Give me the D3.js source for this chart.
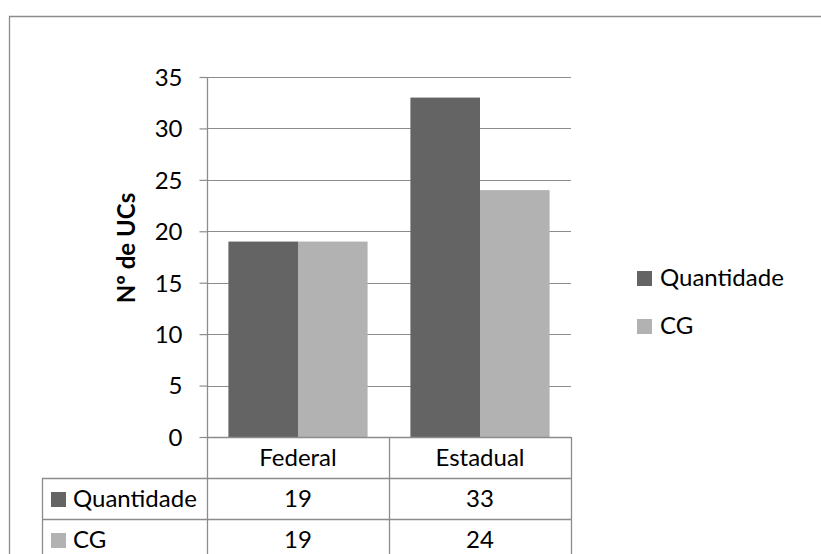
<!DOCTYPE html>
<html>
<head>
<meta charset="utf-8">
<script src="https://cdn.jsdelivr.net/npm/d3@7"></script>
<style>
  html, body { margin: 0; padding: 0; background: #fff; }
  svg { display: block; }
  text { font-family: Lato, "Open Sans", sans-serif; fill: #000; }
</style>
</head>
<body>
<script>
// Unidades de conservação por esfera administrativa
const categories = ["Federal", "Estadual"];
const seriesNames = ["Quantidade", "CG"];
const quantidade = [19, 33];
const cg = [19, 24];
const yTicks = [0, 5, 10, 15, 20, 25, 30, 35];
const yTitle = "Nº de UCs";
const seriesColors = ["#646464", "#b2b2b2"];

const W = 821, H = 554;
const FS = 24;
const lineColor = "#8c8c8c";

const svg = d3.select("body").append("svg")
  .attr("width", W).attr("height", H);

svg.append("rect").attr("width", W).attr("height", H).attr("fill", "#fff");

// chart frame
svg.append("path")
  .attr("d", `M9.5,${H} V16.5 H${W}`)
  .attr("fill", "none").attr("stroke", lineColor).attr("stroke-width", 1.3);

const plot = { left: 207, right: 571, top: 77, bottom: 437 };

const x = d3.scaleBand().domain(categories).range([plot.left, plot.right]).padding(0);
const xs = d3.scaleBand().domain(seriesNames).range([0, x.bandwidth()])
  .paddingInner(0).paddingOuter(0.3075);
const y = d3.scaleLinear().domain([0, 35]).range([plot.bottom, plot.top]);

const seriesData = [quantidade, cg];

// gridlines
svg.append("g").selectAll("line").data(yTicks.filter(d => d > 0)).join("line")
  .attr("x1", plot.left).attr("x2", plot.right)
  .attr("y1", d => Math.round(y(d)) + 0.5).attr("y2", d => Math.round(y(d)) + 0.5)
  .attr("stroke", lineColor).attr("stroke-width", 1.2);

// bars
seriesNames.forEach((s, si) => {
  svg.append("g").selectAll("rect").data(categories).join("rect")
    .attr("x", c => x(c) + xs(s))
    .attr("width", xs.bandwidth())
    .attr("y", (c, i) => y(seriesData[si][i]))
    .attr("height", (c, i) => y(0) - y(seriesData[si][i]))
    .attr("fill", seriesColors[si]);
});

// y axis
const yAxis = d3.axisLeft(y).tickValues(yTicks).tickSize(8).tickPadding(17)
  .tickFormat(d3.format("d"));
const ya = svg.append("g").attr("transform", `translate(${plot.left + 0.5},0)`).call(yAxis);
ya.select(".domain").remove();
ya.selectAll(".tick line").attr("stroke", lineColor).attr("stroke-width", 1.2);
ya.selectAll(".tick text").attr("font-size", FS).attr("font-family", "Lato, sans-serif")
  .attr("fill", "#000").attr("dy", "0.35em");

// axis line (continues through the data table)
svg.append("line")
  .attr("x1", plot.left + 0.5).attr("x2", plot.left + 0.5)
  .attr("y1", plot.top).attr("y2", H)
  .attr("stroke", lineColor).attr("stroke-width", 1.3);

// y axis title
svg.append("text")
  .attr("transform", `translate(127,${(plot.top + plot.bottom) / 2 - 9}) rotate(-90)`)
  .attr("text-anchor", "middle").attr("dy", "0.35em")
  .attr("font-size", FS).attr("font-weight", "bold")
  .text(yTitle);

// data table
const rowH = 41;
const tableLeft = 42;
const rows = [plot.bottom, plot.bottom + rowH, plot.bottom + 2 * rowH, plot.bottom + 3 * rowH];
const tg = svg.append("g");
tg.append("line").attr("x1", plot.left).attr("x2", plot.right)
  .attr("y1", rows[0] + 0.5).attr("y2", rows[0] + 0.5)
  .attr("stroke", lineColor).attr("stroke-width", 1.3);
rows.slice(1).forEach(r => {
  tg.append("line").attr("x1", tableLeft).attr("x2", plot.right)
    .attr("y1", r + 0.5).attr("y2", r + 0.5)
    .attr("stroke", lineColor).attr("stroke-width", 1.3);
});
tg.append("line").attr("x1", tableLeft + 0.5).attr("x2", tableLeft + 0.5)
  .attr("y1", rows[1]).attr("y2", H).attr("stroke", lineColor).attr("stroke-width", 1.3);
categories.forEach(c => {
  const xr = x(c) + x.bandwidth();
  tg.append("line").attr("x1", xr + 0.5).attr("x2", xr + 0.5)
    .attr("y1", rows[0]).attr("y2", H).attr("stroke", lineColor).attr("stroke-width", 1.3);
});

// header row: categories
tg.selectAll("text.cat").data(categories).join("text").attr("class", "cat")
  .attr("x", c => x(c) + x.bandwidth() / 2)
  .attr("y", rows[0] + rowH / 2).attr("dy", "0.35em")
  .attr("text-anchor", "middle").attr("font-size", FS)
  .text(c => c);

// series rows
seriesNames.forEach((s, si) => {
  const ry = rows[si + 1];
  tg.append("rect").attr("x", 51).attr("y", ry + 14).attr("width", 15).attr("height", 15)
    .attr("fill", seriesColors[si]);
  tg.append("text").attr("x", 73).attr("y", ry + rowH / 2).attr("dy", "0.35em")
    .attr("font-size", FS).text(s);
  tg.selectAll(null).data(categories).join("text")
    .attr("x", c => x(c) + x.bandwidth() / 2)
    .attr("y", ry + rowH / 2).attr("dy", "0.35em")
    .attr("text-anchor", "middle").attr("font-size", FS)
    .text((c, i) => seriesData[si][i]);
});

// legend
const lg = svg.append("g");
seriesNames.forEach((s, si) => {
  const ly = 278 + si * 48;
  lg.append("rect").attr("x", 637).attr("y", ly - 7).attr("width", 15).attr("height", 15)
    .attr("fill", seriesColors[si]);
  lg.append("text").attr("x", 660).attr("y", ly).attr("dy", "0.35em")
    .attr("font-size", FS).text(s);
});
</script>
</body>
</html>
